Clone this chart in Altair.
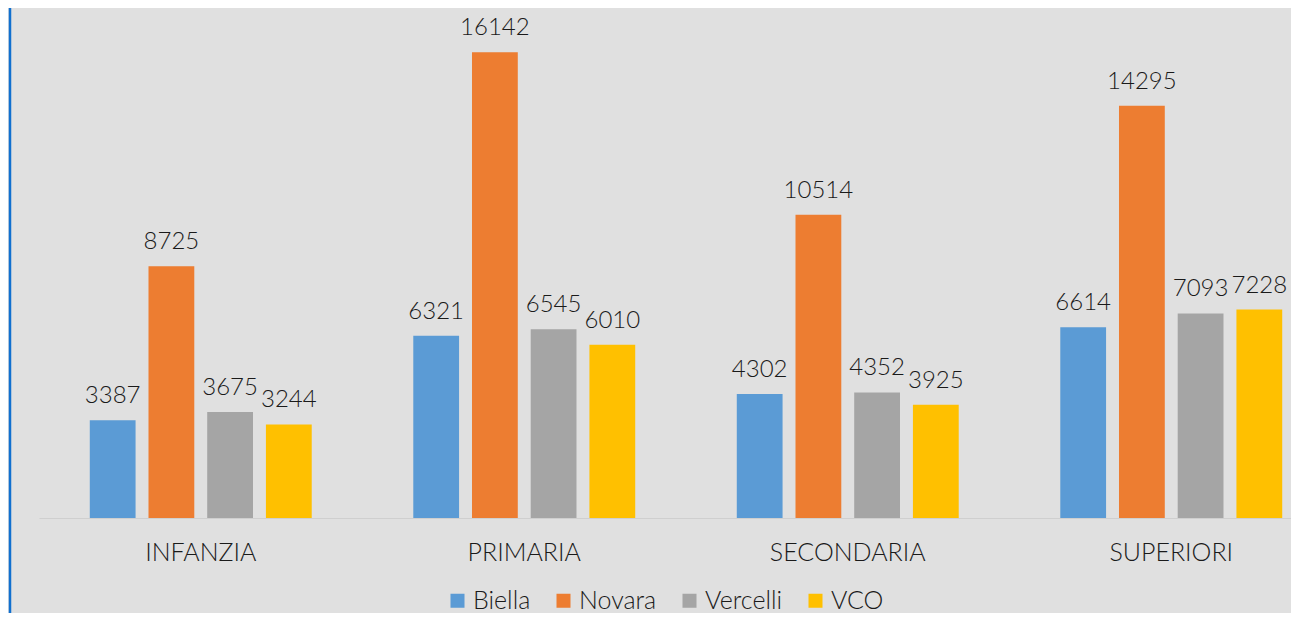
import altair as alt
import pandas as pd

categories = ["INFANZIA", "PRIMARIA", "SECONDARIA", "SUPERIORI"]
provinces = ["Biella", "Novara", "Vercelli", "VCO"]
biella = [3387, 6321, 4302, 6614]
novara = [8725, 16142, 10514, 14295]
vercelli = [3675, 6545, 4352, 7093]
vco = [3244, 6010, 3925, 7228]
colors = ["#5B9BD5", "#ED7D31", "#A5A5A5", "#FFC000"]

rows = []
for name, vals in zip(provinces, [biella, novara, vercelli, vco]):
    for c, v in zip(categories, vals):
        rows.append({"categoria": c, "provincia": name, "valore": v})
df = pd.DataFrame(rows)

FONT = "Lato"
TXT = "#1a1a1a"
W = 300

x = alt.X(
    "categoria:N",
    sort=categories,
    scale=alt.Scale(range=[0, 1294], paddingInner=0.274, paddingOuter=0.137),
    axis=alt.Axis(
        title=None, labelAngle=0, ticks=False, domainColor="#cfcfcf", domainWidth=1,
        labelFontSize=25, labelFont=FONT, labelFontWeight=W, labelColor=TXT, labelPadding=22,
    ),
)
xo = alt.XOffset("provincia:N", sort=provinces,
                 scale=alt.Scale(paddingInner=0.22, paddingOuter=0.11))
y = alt.Y("valore:Q", scale=alt.Scale(domain=[0, 17680], nice=False, zero=True), axis=None)

bars = alt.Chart(df).mark_bar().encode(
    x=x, xOffset=xo, y=y,
    color=alt.Color(
        "provincia:N", sort=provinces,
        scale=alt.Scale(domain=provinces, range=colors),
        legend=alt.Legend(
            title=None, orient="none", direction="horizontal",
            legendX=406, legendY=580,
            symbolType="square", symbolSize=196, symbolStrokeWidth=0,
            labelFontSize=25, labelFont=FONT, labelFontWeight=W, labelColor=TXT,
            labelOffset=3, columnPadding=20,
        ),
    ),
)

labels = alt.Chart(df).mark_text(
    dy=-17, baseline="alphabetic", fontSize=24, font=FONT, fontWeight=W, color=TXT
).encode(x=x, xOffset=xo, y=y, text=alt.Text("valore:Q", format="d"))

border = alt.Chart(pd.DataFrame({"a": [0]})).mark_rule(
    color="#1170cf", strokeWidth=2.5
).encode(x=alt.value(-29), y=alt.value(-20), y2=alt.value(700))

chart = alt.layer(bars, labels, border).properties(
    width=1252, height=510,
    autosize=alt.AutoSizeParams(type="none"),
    padding={"left": 31, "top": 0, "right": 0, "bottom": 95},
    background="#e0e0e0",
).configure_view(stroke=None)

chart.save("out.html", embed_options={"renderer": "svg", "actions": False})
